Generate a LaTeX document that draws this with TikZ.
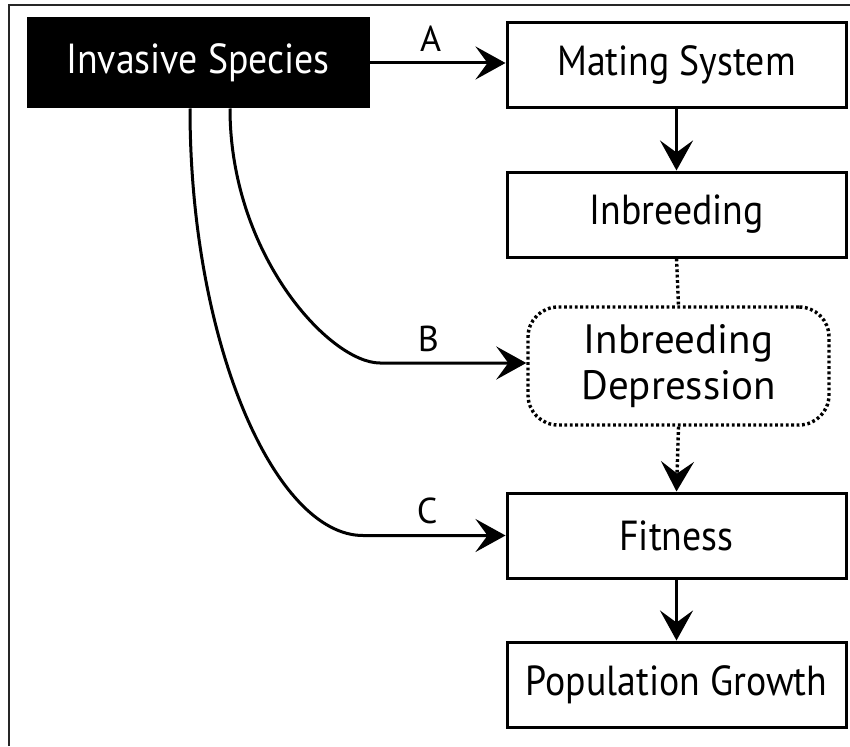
\documentclass[tikz,border=0pt]{standalone}
\usepackage{fontspec}
\setmainfont{PT Sans}
\newfontfamily\condfont[FakeStretch=0.9]{PT Sans}
\usetikzlibrary{arrows.meta}
\begin{document}
\begin{tikzpicture}[x=1pt,y=-1pt,
  box/.style={draw=black, line width=3pt, minimum width=339pt, minimum height=85pt, inner sep=0pt, font=\condfont\fontsize{42}{46}\selectfont},
  tip/.style={-{Stealth[length=30pt,width=33pt,inset=12pt]}},
  conn/.style={line width=3pt, tip},
  dotline/.style={line width=3.4pt, dash pattern=on 2.8pt off 2.6pt},
  lab/.style={font=\fontsize{36}{40}\selectfont, inner sep=0pt}]
\useasboundingbox (0,0) rectangle (850,746);
\draw[line width=2.2pt, black!85] (9,746) -- (9,5) -- (850,5);
\node[box, fill=black, text=white, minimum width=340pt, minimum height=88pt] (inv) at (198,63) {Invasive Species};
\node[box] (mat) at (676.5,65.5) {Mating System};
\node[box] (inb) at (676.5,214.5) {Inbreeding};
\node[draw=black, dotline, rounded corners=30pt, minimum width=301pt, minimum height=118pt, inner sep=0pt, align=center, font=\fontsize{41}{46}\selectfont] (dep) at (678.5,366) {Inbreeding\\Depression};
\node[box] (fit) at (676.5,535.5) {Fitness};
\node[box] (pop) at (676.5,684.5) {Population Growth};
\draw[conn] (inv.east) -- node[lab, above=10pt, pos=0.45] {A} (inv.east -| mat.west);
\draw[conn] (mat.south) -- (inb.north);
\draw[dotline] (inb.south) -- (dep.north);
\draw[dotline, tip] (dep.south) -- (fit.north);
\draw[conn] (fit.south) -- (pop.north);
\coordinate (bstart) at ([xshift=32pt]inv.south);
\coordinate (bbend) at (380,363);
\coordinate (cstart) at ([xshift=-8pt]inv.south);
\coordinate (cbend) at (363,535.5);
\draw[conn] (bstart) .. controls (230,255) and (330,363) .. (bbend) -- node[lab, above=10pt, pos=0.33] {B} (bbend -| dep.west);
\draw[conn] (cstart) .. controls (190,343) and (275,535.5) .. (cbend) -- node[lab, above=10pt, pos=0.45] {C} (fit.west);
\end{tikzpicture}
\end{document}
